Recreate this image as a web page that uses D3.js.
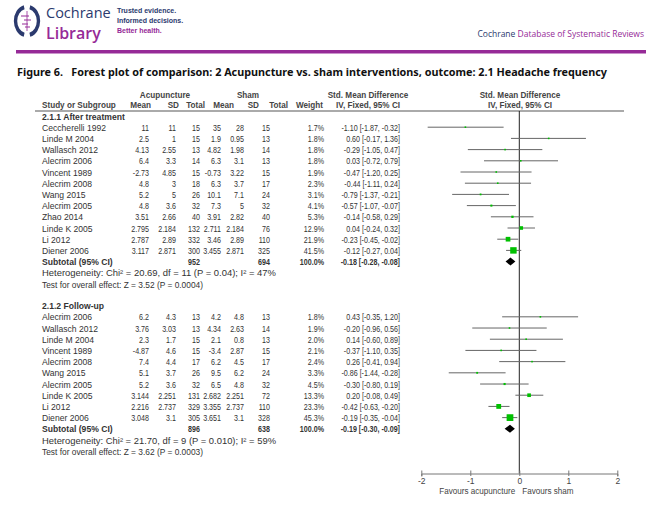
<!DOCTYPE html>
<html><head><meta charset="utf-8">
<script src="https://cdn.jsdelivr.net/npm/d3@7"></script>
<style>body{margin:0;background:#fff}</style>
</head><body><svg id="c" width="650" height="516"></svg>
<script>
// ---------- data ----------
const studies1 = ["Ceccherelli 1992","Linde M 2004","Wallasch 2012","Alecrim 2006","Vincent 1989","Alecrim 2008","Wang 2015","Alecrim 2005","Zhao 2014","Linde K 2005","Li 2012","Diener 2006"];
const acuMean1 = ["11","2.5","4.13","6.4","-2.73","4.8","5.2","4.8","3.51","2.795","2.787","3.117"];
const acuSD1 = ["11","1","2.55","3.3","4.85","3","5","3.6","2.66","2.184","2.89","2.871"];
const acuN1 = [15,15,13,14,15,18,26,32,40,132,332,300];
const shamMean1 = ["35","1.9","4.82","6.3","-0.73","6.3","10.1","7.3","3.91","2.711","3.46","3.455"];
const shamSD1 = ["28","0.95","1.98","3.1","3.22","3.7","7.1","5","2.82","2.184","2.89","2.871"];
const shamN1 = [15,13,14,13,15,17,24,32,40,76,110,325];
const weight1 = [1.7,1.8,1.8,1.8,1.9,2.3,3.1,4.1,5.3,12.9,21.9,41.5];
const smd1 = [-1.10,0.60,-0.29,0.03,-0.47,-0.44,-0.79,-0.57,-0.14,0.04,-0.23,-0.12];
const lo1 = [-1.87,-0.17,-1.05,-0.72,-1.20,-1.11,-1.37,-1.07,-0.58,-0.24,-0.45,-0.27];
const hi1 = [-0.32,1.36,0.47,0.79,0.25,0.24,-0.21,-0.07,0.29,0.32,-0.02,0.04];
const sub1 = {acuN:952, shamN:694, smd:-0.18, lo:-0.28, hi:-0.08};
const het1 = "Heterogeneity: Chi\u00b2 = 20.69, df = 11 (P = 0.04); I\u00b2 = 47%";
const test1 = "Test for overall effect: Z = 3.52 (P = 0.0004)";

const studies2 = ["Alecrim 2006","Wallasch 2012","Linde M 2004","Vincent 1989","Alecrim 2008","Wang 2015","Alecrim 2005","Linde K 2005","Li 2012","Diener 2006"];
const acuMean2 = ["6.2","3.76","2.3","-4.87","7.4","5.1","5.2","3.144","2.216","3.048"];
const acuSD2 = ["4.3","3.03","1.7","4.6","4.4","3.7","3.6","2.251","2.737","3.1"];
const acuN2 = [13,13,15,15,17,26,32,131,329,305];
const shamMean2 = ["4.2","4.34","2.1","-3.4","6.2","9.5","6.5","2.682","3.355","3.651"];
const shamSD2 = ["4.8","2.63","0.8","2.87","4.5","6.2","4.8","2.251","2.737","3.1"];
const shamN2 = [13,14,13,15,17,24,32,72,110,328];
const weight2 = [1.8,1.9,2.0,2.1,2.4,3.3,4.5,13.3,23.3,45.3];
const smd2 = [0.43,-0.20,0.14,-0.37,0.26,-0.86,-0.30,0.20,-0.42,-0.19];
const lo2 = [-0.35,-0.96,-0.60,-1.10,-0.41,-1.44,-0.80,-0.08,-0.63,-0.35];
const hi2 = [1.20,0.56,0.89,0.35,0.94,-0.28,0.19,0.49,-0.20,-0.04];
const sub2 = {acuN:896, shamN:638, smd:-0.19, lo:-0.30, hi:-0.09};
const het2 = "Heterogeneity: Chi\u00b2 = 21.70, df = 9 (P = 0.010); I\u00b2 = 59%";
const test2 = "Test for overall effect: Z = 3.62 (P = 0.0003)";

const groups = [
  {title:"2.1.1 After treatment", studies:studies1, acuMean:acuMean1, acuSD:acuSD1, acuN:acuN1, shamMean:shamMean1, shamSD:shamSD1, shamN:shamN1, weight:weight1, smd:smd1, lo:lo1, hi:hi1, sub:sub1, het:het1, test:test1},
  {title:"2.1.2 Follow-up", studies:studies2, acuMean:acuMean2, acuSD:acuSD2, acuN:acuN2, shamMean:shamMean2, shamSD:shamSD2, shamN:shamN2, weight:weight2, smd:smd2, lo:lo2, hi:hi2, sub:sub2, het:het2, test:test2}
];
const axisTicks = [-2,-1,0,1,2];
const favLeft = "Favours acupuncture", favRight = "Favours sham";

// ---------- drawing ----------
const svg = d3.select("#c");
const NAVY = "#2b3a6e", PURPLE = "#962a97", TXT = "#333";
const FONT = "'Liberation Sans', Arial, sans-serif";
const OPEN = "'Open Sans', 'Noto Sans', sans-serif";

// header banner
const logo = svg.append("g").attr("transform","translate(27,21)");
const arcL = d3.arc().innerRadius(11.5).outerRadius(15.5).startAngle(Math.PI*1.08).endAngle(Math.PI*1.92);
const arcR = d3.arc().innerRadius(11.5).outerRadius(15.5).startAngle(Math.PI*0.08).endAngle(Math.PI*0.92);
logo.append("g").attr("transform","scale(0.85,1.05)").call(g=>{
  g.append("path").attr("d",arcL()).attr("fill",NAVY);
  g.append("path").attr("d",arcR()).attr("fill",NAVY);
});
logo.append("line").attr("x1",0).attr("x2",0).attr("y1",-10).attr("y2",10).attr("stroke",PURPLE).attr("stroke-width",0.8);
[[-6,2,-5],[-3,4,-1],[-5,1,3],[-2,3,6]].forEach(([a,b,yy])=>{
  logo.append("line").attr("x1",a).attr("x2",b).attr("y1",yy).attr("y2",yy).attr("stroke",PURPLE).attr("stroke-width",1);
});
svg.append("text").attr("x",46).attr("y",18).text("Cochrane").attr("font-family",OPEN).attr("font-size",14.5).attr("fill",NAVY);
svg.append("text").attr("x",46).attr("y",38.5).text("Library").attr("font-family",OPEN).attr("font-size",16).attr("font-weight",600).attr("fill",PURPLE);
[["Trusted evidence.",NAVY,13],["Informed decisions.",NAVY,23],["Better health.",PURPLE,33]].forEach(([t,c,yy])=>{
  svg.append("text").attr("x",117).attr("y",yy).text(t).attr("font-family",FONT).attr("font-weight","bold").attr("font-size",7).attr("fill",c);
});
const rt = svg.append("text").attr("x",644).attr("y",37).attr("text-anchor","end").attr("font-family",OPEN).attr("font-size",8.5);
rt.append("tspan").text("Cochrane ").attr("fill",NAVY);
rt.append("tspan").text("Database of Systematic Reviews").attr("fill",PURPLE);
svg.append("rect").attr("x",16).attr("y",50).attr("width",630).attr("height",3.5).attr("fill",PURPLE);

// title
svg.append("text").attr("x",17).attr("y",76).text("Figure 6.\u2002 Forest plot of comparison: 2 Acupuncture vs. sham interventions, outcome: 2.1 Headache frequency")
  .attr("font-family","'Noto Sans', 'Open Sans', sans-serif").attr("font-weight","bold").attr("font-size",10.8).attr("fill","#111");

// condensed text helper (reference uses a narrow face)
const narrowText = (t,xx,yy,anchor,opts)=>{
  const o = opts||{};
  return svg.append("text").attr("transform",`translate(${xx},${yy}) scale(${o.sx||0.82},1)`)
    .attr("text-anchor",anchor).text(t).attr("font-family",FONT)
    .attr("font-size",o.size||8.5).attr("font-weight",o.bold?"bold":"normal").attr("fill",o.fill||TXT);
};

// column header
const hdr = (t,xx,yy,anchor)=>narrowText(t,xx,yy,anchor,{bold:true,size:9.5,sx:0.86,fill:"#444"});
hdr("Acupuncture",165,98,"middle"); hdr("Sham",248,98,"middle");
hdr("Std. Mean Difference",368,98,"middle"); hdr("Std. Mean Difference",520,98,"middle");
hdr("Study or Subgroup",42,108,"start");
hdr("Mean",151,108,"end"); hdr("SD",179,108,"end"); hdr("Total",205,108,"end");
hdr("Mean",234,108,"end"); hdr("SD",259,108,"end"); hdr("Total",288,108,"end");
hdr("Weight",323,108,"end"); hdr("IV, Fixed, 95% CI",368,108,"middle"); hdr("IV, Fixed, 95% CI",520,108,"middle");
svg.append("line").attr("x1",35).attr("x2",624).attr("y1",111).attr("y2",111).attr("stroke","#aaa").attr("stroke-width",2);

const x = d3.scaleLinear().domain([-2,2]).range([421.3,617.3]);
const rowY = d3.scaleLinear().domain([0,1]).range([116.5,127.7]);
const groupStart = [0,16.93];
const cols = {name:42, acuMean:149, acuSD:176, acuN:200, shamMean:221, shamSD:244, shamN:270, weight:324, ci:400};
const f2 = d3.format(".2f");
const fmt = v => f2(v).replace("\u2212","-");
const ciText = (m,l,h)=>`${fmt(m)} [${fmt(l)}, ${fmt(h)}]`;

// zero line
svg.append("line").attr("x1",x(0)).attr("x2",x(0)).attr("y1",111).attr("y2",473.5).attr("stroke","#222").attr("stroke-width",1);

const cell = (t,xx,yy,anchor,bold,opts)=>{
  const o = opts||{};
  const el = svg.append("text").attr("x",xx).attr("y",yy+3).attr("text-anchor",anchor||"end").text(t)
    .attr("font-family",FONT).attr("font-size",8.6).attr("font-weight",bold?"bold":"normal").attr("fill",TXT);
  if(o.len) el.attr("textLength",o.len).attr("lengthAdjust","spacingAndGlyphs");
  return el;
};
const ncell = (t,xx,yy,bold)=>narrowText(t,xx,yy+3,"end",{bold:bold,size:8.7});

groups.forEach((g,gi)=>{
  const s0 = groupStart[gi];
  cell(g.title, cols.name, rowY(s0), "start", true);
  g.studies.forEach((st,i)=>{
    const yy = rowY(s0+1+i);
    cell(st, cols.name, yy, "start");
    ncell(g.acuMean[i], cols.acuMean, yy); ncell(g.acuSD[i], cols.acuSD, yy); ncell(g.acuN[i], cols.acuN, yy);
    ncell(g.shamMean[i], cols.shamMean, yy); ncell(g.shamSD[i], cols.shamSD, yy); ncell(g.shamN[i], cols.shamN, yy);
    ncell(g.weight[i].toFixed(1)+"%", cols.weight, yy);
    ncell(ciText(g.smd[i],g.lo[i],g.hi[i]), cols.ci, yy);
    svg.append("line").attr("x1",x(g.lo[i])).attr("x2",x(g.hi[i])).attr("y1",yy-0.5).attr("y2",yy-0.5).attr("stroke","#666").attr("stroke-width",1);
    const side = Math.max(1.6, Math.sqrt(g.weight[i]));
    svg.append("rect").attr("x",x(g.smd[i])-side/2).attr("y",yy-0.5-side/2).attr("width",side).attr("height",side).attr("fill","#00c000");
  });
  const ys = rowY(s0+1+g.studies.length);
  cell("Subtotal (95% CI)", cols.name, ys, "start", true);
  ncell(g.sub.acuN, cols.acuN, ys, true);
  ncell(g.sub.shamN, cols.shamN, ys, true);
  ncell("100.0%", cols.weight, ys, true);
  ncell(ciText(g.sub.smd,g.sub.lo,g.sub.hi), cols.ci, ys, true);
  const yd = ys-0.5;
  svg.append("path").attr("d",`M${x(g.sub.lo)},${yd} L${x(g.sub.smd)},${yd-4} L${x(g.sub.hi)},${yd} L${x(g.sub.smd)},${yd+4} Z`).attr("fill","#000");
  cell(g.het, cols.name, rowY(s0+2+g.studies.length), "start", false, {len:234});
  cell(g.test, cols.name, rowY(s0+3+g.studies.length), "start", false, {len:161});
});

// axis
const ax = svg.append("g").attr("transform","translate(0,473.5)")
  .call(d3.axisBottom(x).tickValues(axisTicks).tickSize(3).tickFormat(d3.format("d")));
ax.select(".domain").attr("stroke","#777");
ax.selectAll(".tick line").attr("y1",-3).attr("y2",2.5).attr("stroke","#777");
ax.selectAll(".tick text").attr("y",4).attr("font-family",FONT).attr("font-size",8.5).attr("fill","#444").text(d=>d3.format("d")(d).replace("\u2212","-"));
narrowText(favLeft, x(0)-4, 494, "end", {size:9, sx:0.9, fill:"#444"});
narrowText(favRight, x(0)+3, 494, "start", {size:9, sx:0.9, fill:"#444"});
</script></body></html>
